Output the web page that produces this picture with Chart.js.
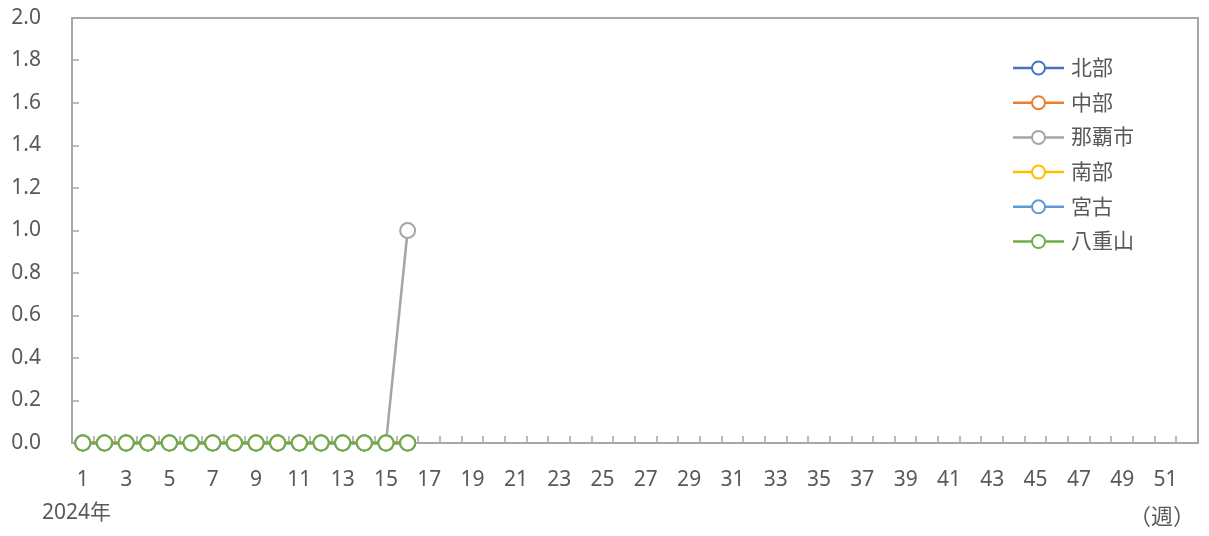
<!DOCTYPE html>
<html><head><meta charset="utf-8">
<script src="https://cdn.jsdelivr.net/npm/chart.js@4/dist/chart.umd.min.js"></script>
<style>html,body{margin:0;padding:0;background:#fff}#wrap{width:1209px;height:536px}</style>
</head><body><div id="wrap"><canvas id="c" width="1209" height="536"></canvas></div>
<script>
const weeks = Array.from({length:52},(_, i)=>String(i+1));
const seriesNames = ['北部','中部','那覇市','南部','宮古','八重山'];
const seriesColors = ['#4472C4','#ED7D31','#A5A5A5','#FFC000','#5B9BD5','#70AD47'];
const hokubu   = [0,0,0,0,0,0,0,0,0,0,0,0,0,0,0,0];
const chubu    = [0,0,0,0,0,0,0,0,0,0,0,0,0,0,0,0];
const naha     = [0,0,0,0,0,0,0,0,0,0,0,0,0,0,0,1];
const nanbu    = [0,0,0,0,0,0,0,0,0,0,0,0,0,0,0,0];
const miyako   = [0,0,0,0,0,0,0,0,0,0,0,0,0,0,0,0];
const yaeyama  = [0,0,0,0,0,0,0,0,0,0,0,0,0,0,0,0];
const seriesValues = [hokubu, chubu, naha, nanbu, miyako, yaeyama];
const yearLabel = '2024年';
const unitLabel = '（週）';
const FONT = '"Noto Sans", "Noto Sans CJK JP", sans-serif';
const TEXT = '#595959';
const AXIS = '#A6A6A6';

const datasets = seriesNames.map((n,i)=>({
  label:n, data:seriesValues[i], borderColor:seriesColors[i], backgroundColor:'#fff',
  pointBackgroundColor:'#fff', pointBorderColor:seriesColors[i], pointRadius:7.5, pointBorderWidth:2,
  borderWidth:2.5, tension:0, order: seriesNames.length - i, spanGaps:false, clip:false
}));

const framePlugin = {
  id:'frame',
  beforeDatasetsDraw(chart){
    const {ctx, chartArea:a, scales:{x,y}} = chart;
    ctx.save();
    ctx.strokeStyle = AXIS; ctx.lineWidth = 2;
    ctx.strokeRect(a.left, a.top, a.right-a.left, a.bottom-a.top);
    ctx.lineWidth = 1.5;
    ctx.beginPath();
    const n = x.ticks.length;
    const step = x.getPixelForTick(1)-x.getPixelForTick(0);
    for(let i=0;i<=n;i++){
      const px = Math.round(x.getPixelForTick(0) + (i-0.5)*step);
      if(px<=a.left+1||px>=a.right-1) continue;
      ctx.moveTo(px, a.bottom); ctx.lineTo(px, a.bottom-7);
    }
    y.ticks.forEach(t=>{
      const py = Math.round(y.getPixelForValue(t.value));
      if(py<=a.top+1||py>=a.bottom-1) return;
      ctx.moveTo(a.left, py); ctx.lineTo(a.left+7, py);
    });
    ctx.stroke();
    ctx.restore();
  },
  afterDraw(chart){
    const {ctx} = chart;
    ctx.save();
    ctx.font = '21px ' + FONT; ctx.fillStyle = TEXT; ctx.textBaseline='middle';
    ctx.textAlign='left';
    ctx.fillText(yearLabel, 42, 513);
    ctx.font = '22px ' + FONT;
    ctx.textAlign='right';
    ctx.fillText(unitLabel, 1195, 518);
    ctx.font = '21px ' + FONT;
    // legend
    const x0 = 1013, x1 = 1064, tx = 1071, y0 = 68, dy = 34.7;
    chart.data.datasets.forEach((d,i)=>{
      const yy = y0 + i*dy;
      ctx.strokeStyle = d.borderColor; ctx.lineWidth = 2.5;
      ctx.beginPath(); ctx.moveTo(x0,yy); ctx.lineTo(x1,yy); ctx.stroke();
      ctx.fillStyle='#fff'; ctx.lineWidth=2;
      ctx.beginPath(); ctx.arc((x0+x1)/2, yy, 6.5, 0, Math.PI*2); ctx.fill(); ctx.stroke();
      ctx.fillStyle = TEXT; ctx.textAlign='left';
      ctx.fillText(d.label, tx, yy+1);
    });
    ctx.restore();
  }
};

new Chart(document.getElementById('c'), {
  type:'line',
  data:{labels:weeks, datasets},
  options:{
    responsive:false, animation:false,
    layout:{padding:{top:18,right:11,left:0,bottom:0}},
    plugins:{legend:{display:false}, tooltip:{enabled:false}},
    scales:{
      x:{
        offset:true,
        grid:{display:false, offset:true},
        border:{display:false},
        ticks:{autoSkip:false, maxRotation:0, minRotation:0, padding:16, color:TEXT,
          font:{size:21, family:FONT},
          callback:(v,i)=> i%2===0 ? weeks[i] : ''},
        afterFit(s){ s.height = 93; s.paddingLeft = 0; s.paddingRight = 0; }
      },
      y:{
        min:0, max:2,
        grid:{display:false},
        border:{display:false},
        ticks:{stepSize:0.2, padding:23, color:TEXT, font:{size:21, family:FONT},
          callback:v=>Number(v).toFixed(1)},
        afterFit(s){ s.width = 72; s.paddingTop = 0; s.paddingBottom = 0; }
      }
    }
  },
  plugins:[framePlugin]
});
</script></body></html>
